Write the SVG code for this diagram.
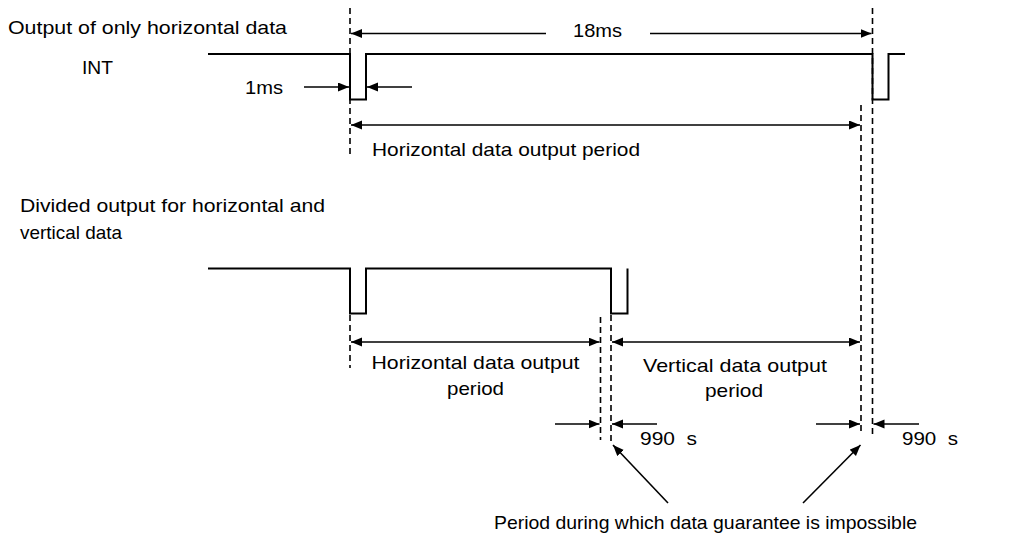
<svg xmlns="http://www.w3.org/2000/svg" width="1011" height="537" viewBox="0 0 1011 537">
<style>
text{font-family:"Liberation Sans",Arial,sans-serif;font-size:19px;fill:#000}
.sig{fill:none;stroke:#000;stroke-width:2}
.dash{fill:none;stroke:#000;stroke-width:1.6;stroke-dasharray:6 4}
.dim{fill:none;stroke:#000;stroke-width:1.6}
.a1{marker-end:url(#ah)}
.a2{marker-start:url(#ah);marker-end:url(#ah)}
</style>
<defs>
<marker id="ah" markerUnits="userSpaceOnUse" markerWidth="12" markerHeight="10" refX="11" refY="4.5" orient="auto-start-reverse">
<path d="M0,0 L11,4.5 L0,9 z" fill="#000"/>
</marker>
</defs>
<rect width="1011" height="537" fill="#fff"/>
<g id="labels">
<text x="8" y="34" textLength="279" lengthAdjust="spacingAndGlyphs">Output of only horizontal data</text>
<text x="82" y="74" textLength="31" lengthAdjust="spacingAndGlyphs">INT</text>
<text x="20" y="212" textLength="305" lengthAdjust="spacingAndGlyphs">Divided output for horizontal and</text>
<text x="20" y="239" textLength="102" lengthAdjust="spacingAndGlyphs">vertical data</text>
</g>
<g id="signal-top">
<path class="sig" d="M208,54 H350 V99.5 H366 V54 H872.5 V99.5 H888.5 V54 H905"/>
</g>
<g id="signal-bottom">
<path class="sig" d="M208,268.5 H350 V313.5 H366 V268.5 H611 V313.5 H627.5 V268.5"/>
</g>
<g id="guides">
<line class="dash" x1="350" y1="8" x2="350" y2="156"/>
<line class="dash" x1="872.5" y1="8" x2="872.5" y2="434"/>
<line class="dash" x1="861" y1="105" x2="861" y2="434"/>
<line class="dash" x1="350" y1="315" x2="350" y2="368"/>
<line class="dash" x1="600.5" y1="317" x2="600.5" y2="440"/>
<line class="dash" x1="611" y1="315" x2="611" y2="444"/>
</g>
<g id="connectors">
<line class="dim a1" x1="546" y1="33.5" x2="351" y2="33.5"/>
<line class="dim a1" x1="650" y1="33.5" x2="871.5" y2="33.5"/>
<line class="dim a1" x1="304" y1="87" x2="349" y2="87"/>
<line class="dim a1" x1="412" y1="87" x2="367" y2="87"/>
<line class="dim a2" x1="351" y1="125" x2="860" y2="125"/>
<line class="dim a2" x1="351" y1="342" x2="599.5" y2="342"/>
<line class="dim a2" x1="612" y1="342" x2="860" y2="342"/>
<line class="dim a1" x1="555" y1="424" x2="599.5" y2="424"/>
<line class="dim a1" x1="657" y1="424" x2="612" y2="424"/>
<line class="dim a1" x1="816" y1="424" x2="860" y2="424"/>
<line class="dim a1" x1="919" y1="424" x2="873.5" y2="424"/>
<line class="dim a1" x1="668" y1="503" x2="613" y2="445"/>
<line class="dim a1" x1="803" y1="503" x2="860.5" y2="445"/>
</g>
<g id="dim-labels">
<text x="573" y="37" textLength="49" lengthAdjust="spacingAndGlyphs">18ms</text>
<text x="245" y="94" textLength="38" lengthAdjust="spacingAndGlyphs">1ms</text>
<text x="372" y="156" textLength="268" lengthAdjust="spacingAndGlyphs">Horizontal data output period</text>
<text x="475.5" y="369" text-anchor="middle" textLength="208" lengthAdjust="spacingAndGlyphs">Horizontal data output</text>
<text x="475.5" y="395" text-anchor="middle" textLength="57" lengthAdjust="spacingAndGlyphs">period</text>
<text x="735" y="372" text-anchor="middle" textLength="184" lengthAdjust="spacingAndGlyphs">Vertical data output</text>
<text x="734" y="397" text-anchor="middle" textLength="58" lengthAdjust="spacingAndGlyphs">period</text>
<text x="640" y="445" style="white-space:pre" textLength="57" lengthAdjust="spacingAndGlyphs">990  s</text>
<text x="902" y="445" style="white-space:pre" textLength="56" lengthAdjust="spacingAndGlyphs">990  s</text>
<text x="494" y="529" textLength="423" lengthAdjust="spacingAndGlyphs">Period during which data guarantee is impossible</text>
</g>
</svg>
